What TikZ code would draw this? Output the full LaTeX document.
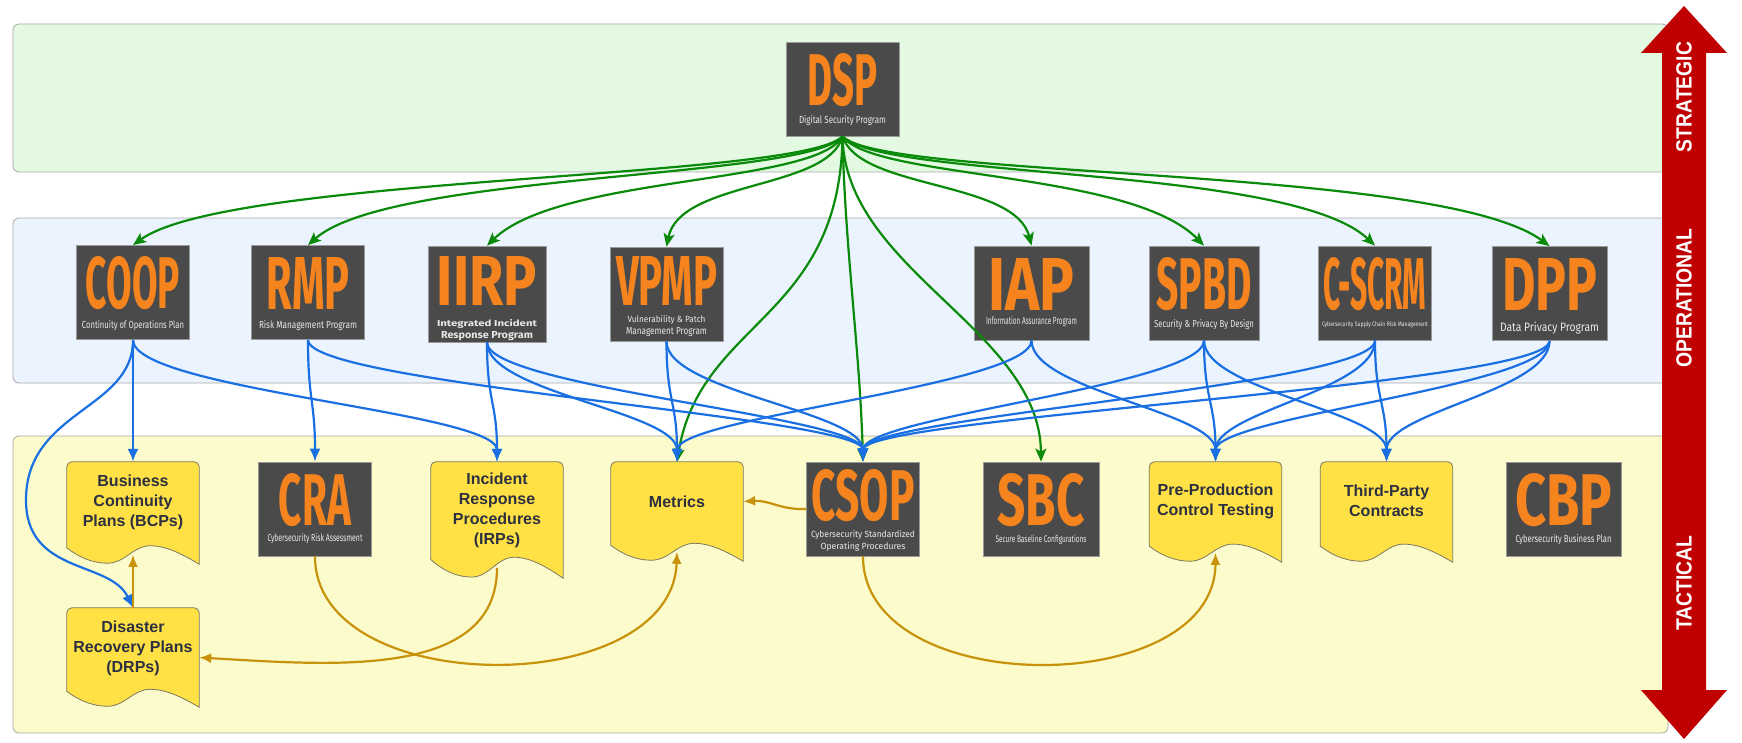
\documentclass[tikz,border=0pt]{standalone}
\usepackage{fontspec}
\usepackage{graphicx}
\setmainfont{Liberation Sans}
\newfontfamily\acrfont{Fira Sans}
\newfontfamily\subfontA{Fira Sans}
\newfontfamily\lvlfont[FakeStretch=0.88]{Liberation Sans}
\usetikzlibrary{arrows.meta,calc}

\definecolor{boxgray}{HTML}{4A4A4A}
\definecolor{boxedge}{HTML}{9A9A9A}
\definecolor{acrorange}{HTML}{F5841F}
\definecolor{subwhite}{HTML}{E8E8E8}
\definecolor{docyel}{HTML}{FFE045}
\definecolor{docedge}{HTML}{7D7A62}
\definecolor{doctxt}{HTML}{2C3040}
\definecolor{bandG}{HTML}{E3F9E1}
\definecolor{bandB}{HTML}{EBF4FE}
\definecolor{bandY}{HTML}{FBFBCB}
\definecolor{bandline}{HTML}{A8A8A8}
\definecolor{arrred}{HTML}{C00000}
\definecolor{cgreen}{HTML}{0A8A0A}
\definecolor{cblue}{HTML}{1A6FE3}
\definecolor{cgold}{HTML}{C8920A}

\newcommand\acr[3][52]{\resizebox{#2pt}{#1pt}{\acrfont\bfseries #3}}
\newcommand\subt[3]{\resizebox{#1pt}{#2pt}{\subfontA #3}}
\newcommand\subtb[3]{\resizebox{#1pt}{#2pt}{\subfontA\bfseries #3}}

\newcommand\docshape[1]{%
 \draw[docstyle] let \p1=(#1.north west), \p2=(#1.south east), \n1={\x2-\x1}, \n2={\y1-\y2} in
 ({\x1+5},\y1) -- ({\x2-5},\y1) arc[start angle=90,end angle=0,radius=5] -- (\x2,\y2)
 .. controls ({\x2-0.13*\n1},{\y1-0.9*\n2}) and ({\x1+0.75*\n1},{\y1-0.82*\n2}) .. ({\x1+0.63*\n1},{\y1-0.82*\n2})
 .. controls ({\x1+0.5*\n1},{\y1-0.82*\n2}) and ({\x1+0.44*\n1},{\y1-0.99*\n2}) .. ({\x1+0.31*\n1},{\y1-0.99*\n2})
 .. controls ({\x1+0.18*\n1},{\y1-0.99*\n2}) and ({\x1+0.08*\n1},{\y1-0.92*\n2}) .. (\x1,{\y1-0.84*\n2})
 -- (\x1,{\y1-5}) arc[start angle=180,end angle=90,radius=5] -- cycle;}

\tikzset{
 band/.style={draw=bandline, line width=0.8pt, rounded corners=6pt},
 dbox/.style={draw=boxedge, fill=boxgray, line width=0.8pt, minimum width=113pt, minimum height=94pt, inner sep=0pt},
 acrn/.style={text=acrorange, inner sep=0pt},
 subn/.style={text=subwhite, inner sep=0pt, align=center, font=\fontsize{10}{12}\selectfont},
 docnode/.style={minimum width=132pt, inner sep=0pt},
 doctext/.style={text=doctxt, font=\bfseries\fontsize{16}{20}\selectfont, align=center, inner sep=0pt},
 docstyle/.style={draw=docedge, fill=docyel, line width=0.8pt},
 gline/.style={draw=cgreen, line width=2.2pt, -{Stealth[length=13pt,width=11pt,inset=3pt]}},
 bline/.style={draw=cblue, line width=2.2pt, -{Latex[length=13pt,width=11pt]}},
 oline/.style={draw=cgold, line width=2.2pt, -{Latex[length=12pt,width=10pt]}},
 lvl/.style={text=white, font=\lvlfont\bfseries\fontsize{22}{22}\selectfont, rotate=90, inner sep=0pt},
}

\begin{document}
\begin{tikzpicture}[x=1pt,y=1pt]
\useasboundingbox (0,0) rectangle (1742,-743);
\fill[white] (0,0) rectangle (1742,-743);

% bands
\draw[band, fill=bandG] (13,-24) rectangle (1668,-172);
\draw[band, fill=bandB] (13,-218) rectangle (1668,-383);
\draw[band, fill=bandY] (13,-436) rectangle (1668,-733);

% level arrow
\fill[arrred] (1684,-6) -- (1727,-53) -- (1706,-53) -- (1706,-690) -- (1727,-690) -- (1684,-739)
  -- (1641,-690) -- (1662,-690) -- (1662,-53) -- (1641,-53) -- cycle;
\node[lvl] (lvS) at (1684,-97) {STRATEGIC};
\node[lvl] (lvO) at (1684,-298) {OPERATIONAL};
\node[lvl] (lvT) at (1684,-583) {TACTICAL};

% strategic
\node[dbox] (dsp) at (842.5,-89) {};
\node[acrn] (dspA) at (842.5,-80) {\acr{70}{DSP}};
\node[subn] (dspS) at (842.5,-121) {\subt{87}{8}{Digital Security Program}};

% operational
\node[dbox] (coop) at (133,-292.5) {};
\node[acrn] (coopA) at (133,-283.5) {\acr{94}{COOP}};
\node[subn] (coopS) at (133,-326) {\subt{102}{8}{Continuity of Operations Plan}};

\node[dbox] (rmp) at (308,-292.5) {};
\node[acrn] (rmpA) at (308,-283.5) {\acr{83}{RMP}};
\node[subn] (rmpS) at (308,-326) {\subt{98}{8}{Risk Management Program}};

\node[dbox, minimum width=118pt, minimum height=96pt] (iirp) at (487,-294) {};
\node[acrn] (iirpA) at (487,-281) {\acr[49]{100}{IIRP}};
\node[subn] (iirpS) at (487,-330) {\subtb{100}{7}{Integrated Incident}\\\subtb{92}{7}{Response Program}};

\node[dbox] (vpmp) at (666.5,-294) {};
\node[acrn] (vpmpA) at (666.5,-281) {\acr[49]{101}{VPMP}};
\node[subn] (vpmpS) at (666.5,-326) {\subt{78}{7}{Vulnerability \& Patch}\\\subt{81}{7}{Management Program}};

\node[dbox, minimum width=115pt] (iap) at (1031.5,-293) {};
\node[acrn] (iapA) at (1031.5,-284) {\acr{86}{IAP}};
\node[subn] (iapS) at (1031.5,-322) {\subt{91}{8}{Information Assurance Program}};

\node[dbox, minimum width=110pt] (spbd) at (1204,-293) {};
\node[acrn] (spbdA) at (1204,-284) {\acr{95}{SPBD}};
\node[subn] (spbdS) at (1204,-325) {\subt{100}{8}{Security \& Privacy By Design}};

\node[dbox] (cscrm) at (1375,-293) {};
\node[acrn] (cscrmA) at (1375,-284) {\acr{103}{C-SCRM}};
\node[subn] (cscrmS) at (1375,-325) {\subt{106}{5}{Cybersecurity Supply Chain Risk Management}};

\node[dbox, minimum width=115pt] (dpp) at (1549.5,-293.5) {};
\node[acrn] (dppA) at (1549.5,-284) {\acr{95}{DPP}};
\node[subn] (dppS) at (1549.5,-328) {\subt{99}{9.5}{Data Privacy Program}};

% tactical dark boxes
\node[dbox] (cra) at (315,-509) {};
\node[acrn] (craA) at (315,-500) {\acr{72}{CRA}};
\node[subn] (craS) at (315,-539) {\subt{95}{8}{Cybersecurity Risk Assessment}};

\node[dbox] (csop) at (863,-509) {};
\node[acrn] (csopA) at (863,-496) {\acr[51]{103}{CSOP}};
\node[subn] (csopS) at (863,-541) {\subt{104}{7}{Cybersecurity Standardized}\\\subt{85}{7}{Operating Procedures}};

\node[dbox, minimum width=116pt] (sbc) at (1041,-509) {};
\node[acrn] (sbcA) at (1041,-500) {\acr{87}{SBC}};
\node[subn] (sbcS) at (1041,-540) {\subt{91}{7.5}{Secure Baseline Configurations}};

\node[dbox, minimum width=115pt] (cbp) at (1563.5,-509.5) {};
\node[acrn] (cbpA) at (1563.5,-500) {\acr{97}{CBP}};
\node[subn] (cbpS) at (1563.5,-540) {\subt{96}{8}{Cybersecurity Business Plan}};

% documents
\node[docnode, minimum height=102pt] (bcp) at (133,-513) {};
\node[docnode, minimum height=116pt] (irp) at (497,-520) {};
\node[docnode, minimum height=99pt] (met) at (677,-511.5) {};
\node[docnode, minimum height=100pt] (ppt) at (1215.5,-512) {};
\node[docnode, minimum height=100pt] (tpc) at (1386.5,-512) {};
\node[docnode, minimum height=99pt] (drp) at (133,-657.5) {};
\docshape{bcp}
\docshape{irp}
\docshape{met}
\docshape{ppt}
\docshape{tpc}
\docshape{drp}
\node[doctext] (bcpT) at (133,-502) {Business\\Continuity\\Plans (BCPs)};
\node[doctext] (irpT) at (497,-510) {Incident\\Response\\Procedures\\(IRPs)};
\node[doctext] (metT) at (677,-502) {Metrics};
\node[doctext] (pptT) at (1215.5,-501) {Pre-Production\\Control Testing};
\node[doctext] (tpcT) at (1386.5,-501) {Third-Party\\Contracts};
\node[doctext] (drpT) at (133,-648) {Disaster\\Recovery Plans\\(DRPs)};

% green connectors
\draw[gline] (dsp.south) .. controls (800,-180) and (230,-175) .. (coop.north);
\draw[gline] (dsp.south) .. controls (805,-180) and (390,-172) .. (rmp.north);
\draw[gline] (dsp.south) .. controls (815,-185) and (560,-175) .. (iirp.north);
\draw[gline] (dsp.south) .. controls (828,-190) and (680,-180) .. (vpmp.north);
\draw[gline] (dsp.south) .. controls (840,-320) and (700,-320) .. (met.north);
\draw[gline] (dsp.south) .. controls (845,-250) and (860,-350) .. (csop.north);
\draw[gline] (dsp.south) .. controls (845,-270) and (1040,-330) .. (sbc.north);
\draw[gline] (dsp.south) .. controls (860,-190) and (1015,-180) .. (iap.north);
\draw[gline] (dsp.south) .. controls (875,-180) and (1130,-170) .. (spbd.north);
\draw[gline] (dsp.south) .. controls (885,-180) and (1290,-165) .. (cscrm.north);
\draw[gline] (dsp.south) .. controls (885,-180) and (1440,-165) .. (dpp.north);

% blue connectors
\draw[bline] (coop.south) -- (bcp.north);
\draw[bline] (coop.south) .. controls (133,-410) and (26,-410) .. (26,-500) .. controls (26,-575) and (110,-560) .. (drp.north);
\draw[bline] (coop.south) to[out=-90,in=90,distance=50] (irp.north);
\draw[bline] (rmp.south) to[out=-90,in=90,distance=60] (cra.north);
\draw[bline] (rmp.south) to[out=-90,in=90,distance=45] (csop.north);
\draw[bline] (iirp.south) to[out=-90,in=90,distance=60] (irp.north);
\draw[bline] (iirp.south) to[out=-90,in=90,distance=50] (met.north);
\draw[bline] (iirp.south) to[out=-90,in=90,distance=45] (csop.north);
\draw[bline] (vpmp.south) to[out=-90,in=90,distance=60] (met.north);
\draw[bline] (vpmp.south) to[out=-90,in=90,distance=50] (csop.north);
\draw[bline] (iap.south) to[out=-90,in=90,distance=45] (met.north);
\draw[bline] (iap.south) to[out=-90,in=90,distance=50] (ppt.north);
\draw[bline] (spbd.south) to[out=-90,in=90,distance=45] (csop.north);
\draw[bline] (spbd.south) to[out=-90,in=90,distance=60] (ppt.north);
\draw[bline] (spbd.south) to[out=-90,in=90,distance=50] (tpc.north);
\draw[bline] (cscrm.south) to[out=-90,in=90,distance=45] (csop.north);
\draw[bline] (cscrm.south) to[out=-90,in=90,distance=50] (ppt.north);
\draw[bline] (cscrm.south) to[out=-90,in=90,distance=60] (tpc.north);
\draw[bline] (dpp.south) to[out=-90,in=90,distance=45] (csop.north);
\draw[bline] (dpp.south) to[out=-90,in=90,distance=45] (ppt.north);
\draw[bline] (dpp.south) to[out=-90,in=90,distance=50] (tpc.north);

% gold connectors
\draw[oline] (csop.west) .. controls (780,-510) and (770,-500) .. ([yshift=10]met.east);
\draw[oline] (cra.south) .. controls (315,-700) and (672,-700) .. ([yshift=-90]met.north);
\draw[oline] ([yshift=-106]irp.north) .. controls (497,-680) and (330,-665) .. (drp.east);
\draw[oline] (csop.south) .. controls (863,-700) and (1215,-700) .. ([yshift=-91]ppt.north);
\draw[oline] (drp.north) -- ([yshift=-93]bcp.north);
\end{tikzpicture}
\end{document}
